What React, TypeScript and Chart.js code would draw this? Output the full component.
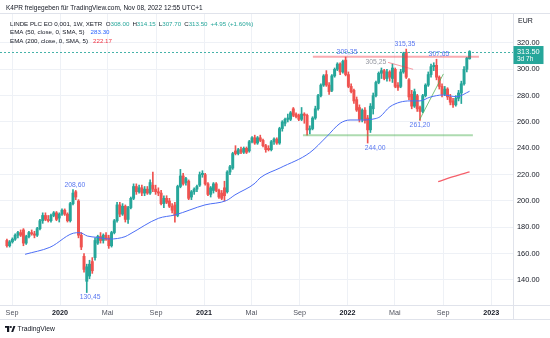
import React, { useEffect, useRef } from 'react';
import { Chart, registerables } from 'chart.js';

Chart.register(...registerables);

const FONT = '"Liberation Sans", Arial, sans-serif';
const UP = '#26a69a';
const DOWN = '#ef5350';
const DARK = '#131722';
const GRID = '#eef1f6';
const FRAME = '#e0e3eb';

// weekly candles, first week starting 2019-08-19
const firstWeek = '2019-08-19';
const opens = [
  170, 166, 169, 171, 174, 176, 178, 168, 173, 176,
  175, 174, 179, 185, 189, 186, 185, 189, 191, 187,
  190, 193, 190, 185, 198, 207, 200, 174, 158, 139,
  143, 154, 157, 168, 173, 170, 174, 172, 166, 176,
  185, 197, 190, 196, 186, 195, 202, 211, 207, 210,
  206, 209, 206, 212, 209, 207, 206, 198, 202, 200,
  196, 197, 189, 211, 219, 214, 215, 203, 207, 209,
  212, 220, 220, 213, 205, 208, 213, 208, 206, 210,
  207, 222, 225, 238, 236, 239, 237, 240, 238, 245,
  248, 244, 248, 246, 242, 240, 239, 245, 247, 244,
  255, 259, 262, 262, 270, 266, 265, 262, 266, 265,
  254, 255, 263, 270, 280, 288, 296, 288, 284, 295,
  300, 304, 298, 307, 296, 287, 284, 277, 271, 262,
  269, 263, 254, 270, 280, 290, 297, 299, 293, 298,
  293, 300, 288, 287, 298, 313, 292, 281, 272, 280,
  271, 268, 280, 288, 296, 302, 303, 294, 287, 281,
  285, 279, 276, 273, 278, 282, 289, 300, 308,
];
const highs = [
  171, 170, 172, 175, 177, 178, 179, 174, 177, 178,
  177, 180, 186, 191, 191, 189, 190, 192, 192, 191,
  194, 194, 191, 199, 208.6, 208, 201, 176, 160, 152,
  155, 157, 172, 174, 176, 175, 176, 174, 177, 186,
  199, 199, 198, 197, 196, 203, 213, 213, 212, 212,
  211, 211, 216, 222, 212, 210, 208, 204, 204, 202,
  198, 199, 212, 224, 221, 218, 216, 208, 210, 212,
  222, 223, 221, 214, 211, 214, 214, 209, 208, 215,
  223, 227, 237, 242, 240, 241, 241, 241, 246, 249,
  250, 249, 250, 247, 243, 242, 246, 248, 248, 256,
  261, 263, 266, 268, 271, 267, 266, 271, 267, 266,
  257, 264, 272, 281, 289, 296, 299, 290, 296, 301,
  305, 305, 307, 309.35, 298, 289, 285, 279, 273, 270,
  271, 265, 274, 282, 291, 298, 301, 300, 300, 299,
  304, 301, 290, 300, 313, 315.35, 293, 284, 285, 281,
  272, 281, 289, 298, 304, 305, 307.65, 295, 289, 287,
  286, 281, 278, 280, 284, 291, 302, 309, 314.15,
];
const lows = [
  165, 165, 168, 170, 172, 173, 166, 167, 172, 174,
  172, 173, 178, 183, 185, 184, 184, 188, 185, 184,
  189, 189, 184, 184, 197, 201, 172, 163, 146, 130.45,
  141, 145, 155, 167, 168, 168, 170, 164, 165, 175,
  184, 188, 189, 184, 183, 194, 201, 205, 206, 204,
  204, 205, 205, 207, 205, 204, 197, 195, 198, 195,
  191, 184, 188, 210, 212, 212, 201, 201, 205, 207,
  211, 218, 212, 204, 203, 206, 207, 202, 201, 200,
  206, 220, 224, 235, 235, 236, 236, 236, 237, 244,
  243, 243, 245, 241, 237, 238, 238, 243, 243, 243,
  253, 257, 260, 261, 264, 263, 261, 261, 259, 250,
  251, 254, 262, 269, 279, 287, 287, 281, 283, 294,
  299, 296, 297, 295, 286, 282, 274, 268, 260, 260,
  259, 244, 252, 266, 279, 289, 293, 292, 291, 291,
  290, 286, 284, 286, 297, 293, 277, 270, 271, 268,
  261.2, 267, 279, 287, 294, 299, 292, 285, 279, 280,
  277, 273, 271, 272, 276, 274, 288, 298, 307.7,
];
const closes = [
  166, 169, 171, 174, 176, 174, 168, 173, 176, 175,
  174, 179, 185, 189, 186, 185, 189, 191, 186, 190,
  193, 190, 185, 198, 206, 203, 174, 165, 148, 150,
  152, 147, 170, 173, 170, 174, 171, 166, 176, 185,
  197, 190, 196, 186, 195, 202, 211, 207, 210, 206,
  209, 206, 214, 209, 207, 206, 198, 202, 199, 196,
  193, 189, 211, 219, 213, 217, 202, 207, 209, 211,
  220, 221, 213, 205, 210, 213, 208, 203, 202, 204,
  222, 226, 236, 236, 239, 237, 240, 237, 245, 248,
  244, 248, 246, 242, 239, 239, 245, 247, 244, 255,
  260, 262, 263, 267, 265, 264, 262, 266, 265, 254,
  255, 263, 270, 280, 288, 295, 288, 283, 295, 300,
  304, 298, 306, 296, 287, 283, 276, 269, 262, 269,
  261, 254, 272, 280, 290, 297, 299, 293, 298, 294,
  301, 287, 286, 298, 312, 294, 279, 272, 283, 270,
  268, 280, 288, 296, 302, 303, 294, 287, 281, 285,
  279, 275, 273, 278, 282, 289, 300, 308.55, 313.5,
];

// EMA (50): week index, value
const ema50Weeks = [6.6, 15.6, 25.3, 26.5, 29.2, 32.6, 37.4, 42.9, 44.7, 55, 61, 71.9, 79.8, 82.8, 90.1, 91.9, 99.2, 110, 116.1, 121, 124.6, 128.2, 133.7, 135.5, 139.1, 146.4, 150, 153.6, 158.3, 163.3, 168];
const ema50Values = [159.5, 164.8, 175.9, 175.9, 173.4, 172.4, 171.1, 172.9, 174.9, 186.8, 189.4, 197.0, 200.4, 204.6, 213.5, 217.5, 225.1, 236.7, 248.8, 259.0, 261.5, 261.5, 262.5, 264.0, 271.6, 276.0, 276.0, 278.8, 280.5, 279.2, 283.3];
// EMA (200)
const ema200Weeks = [156.6, 162.1, 168];
const ema200Values = [214.7, 218.5, 222.17];

// drawings
const resistWeeks = [111.1, 171.4];
const resistPrices = [309.6, 309.6];
const supportWeeks = [107.5, 169.2];
const supportPrices = [250, 250];
const fallWeeks = [138.4, 147.5];
const fallPrices = [305.25, 300.0];
const riseWeeks = [149.8, 158.5];
const risePrices = [261.5, 296.5];

// price notes
const noteTexts = ['208,60', '130,45', '309,35', '315,35', '307,65', '244,00', '261,20', '305,25'];
const noteWeeks = [24.7, 30.2, 123.5, 144.5, 156.9, 133.7, 150, 134.0];
const notePrices = [208.6, 130.45, 309.35, 315.35, 307.65, 244.0, 261.2, 305.25];
const noteSides = [-1, 1, -1, -1, -1, 1, 1, 0];
const noteKinds = ['hi', 'lo', 'hi', 'hi', 'hi', 'lo', 'lo', 'gray'];

const xTickDates = ['2019-09-01', '2020-01-01', '2020-05-01', '2020-09-01', '2021-01-01', '2021-05-01', '2021-09-01', '2022-01-01', '2022-05-01', '2022-09-01', '2023-01-01'];
const xTickLabels = ['Sep', '2020', 'Mai', 'Sep', '2021', 'Mai', 'Sep', '2022', 'Mai', 'Sep', '2023'];
const yTicks = [140, 160, 180, 200, 220, 240, 260, 280, 300, 320];

const WEEK_MS = 7 * 86400000;
const weekOf = (d: string) => (Date.parse(d) - Date.parse(firstWeek)) / WEEK_MS;
const xTickWeeks = xTickDates.map(weekOf);

const X_MIN = -2.505;
const X_MAX = 183.77;
const Y_MIN = 121.0;
const Y_MAX = 342.0;

const isYear = (s: string) => /^\d{4}$/.test(s);
const candleColor = (i: number) => (closes[i] >= opens[i] ? UP : DOWN);

function drawSegs(ctx: CanvasRenderingContext2D, x: number, y: number, segs: [string, string, number][]) {
  let cx = x;
  for (const [t, c, gap] of segs) {
    cx += gap;
    ctx.fillStyle = c;
    ctx.fillText(t, cx, y);
    cx += ctx.measureText(t).width;
  }
}

const overlayPlugin = {
  id: 'overlay',
  afterDatasetsDraw(chart: any) {
    const { ctx, chartArea: a } = chart;
    const xs = chart.scales.x;
    const ys = chart.scales.y;
    ctx.save();
    ctx.beginPath();
    ctx.rect(a.left, a.top, a.right - a.left, a.bottom - a.top);
    ctx.clip();
    const last = closes.length - 1;
    const py = Math.round(ys.getPixelForValue(closes[last])) + 0.5;
    ctx.strokeStyle = 'rgba(38,166,154,0.85)';
    ctx.lineWidth = 1;
    ctx.setLineDash([2, 2]);
    ctx.beginPath();
    ctx.moveTo(a.left, py);
    ctx.lineTo(a.right, py);
    ctx.stroke();
    ctx.setLineDash([]);

    ctx.font = `6.8px ${FONT}`;
    ctx.textAlign = 'center';
    ctx.textBaseline = 'middle';
    noteTexts.forEach((t, k) => {
      const px = xs.getPixelForValue(noteWeeks[k]);
      const yy = ys.getPixelForValue(notePrices[k]) + noteSides[k] * 5;
      ctx.fillStyle = noteKinds[k] === 'gray' ? '#9598a1' : '#5a78f0';
      ctx.fillText(t, px, yy);
    });
    ctx.restore();
  },
  afterDraw(chart: any) {
    const { ctx, chartArea: a } = chart;
    const ys = chart.scales.y;
    const W = chart.width;
    ctx.save();
    // frame lines
    ctx.strokeStyle = FRAME;
    ctx.lineWidth = 1;
    ctx.beginPath();
    ctx.moveTo(0, 13.5); ctx.lineTo(W, 13.5);
    ctx.moveTo(0, a.bottom + 0.5); ctx.lineTo(W, a.bottom + 0.5);
    ctx.moveTo(0, a.bottom + 14.5); ctx.lineTo(W, a.bottom + 14.5);
    ctx.moveTo(a.right + 0.5, 13.5); ctx.lineTo(a.right + 0.5, a.bottom + 14.5);
    ctx.stroke();

    ctx.textBaseline = 'middle';
    ctx.textAlign = 'left';
    // header
    ctx.font = `6.5px ${FONT}`;
    ctx.fillStyle = DARK;
    ctx.fillText('K4PR freigegeben für TradingView.com, Nov 08, 2022 12:55 UTC+1', 6, 8.5);

    // legend
    const last = closes.length - 1;
    const chg = closes[last] - closes[last - 1];
    const pct = (chg / closes[last - 1]) * 100;
    const sign = chg >= 0 ? '+' : '';
    ctx.font = `6.2px ${FONT}`;
    drawSegs(ctx, 10, 24, [
      ['LINDE PLC EO 0,001, 1W, XETR', DARK, 0],
      ['O', DARK, 3.5], [opens[last].toFixed(2), UP, 0],
      ['H', DARK, 3], [highs[last].toFixed(2), UP, 0],
      ['L', DARK, 3], [lows[last].toFixed(2), UP, 0],
      ['C', DARK, 3], [closes[last].toFixed(2), UP, 0],
      [`${sign}${chg.toFixed(2)} (${sign}${pct.toFixed(2)}%)`, UP, 3],
    ]);
    drawSegs(ctx, 10, 32.5, [
      ['EMA (50, close, 0, SMA, 5)', DARK, 0],
      [ema50Values[ema50Values.length - 1].toFixed(2), '#2962ff', 6],
    ]);
    drawSegs(ctx, 10, 41, [
      ['EMA (200, close, 0, SMA, 5)', DARK, 0],
      [ema200Values[ema200Values.length - 1].toFixed(2), '#f23645', 5],
    ]);

    // currency
    ctx.font = `7px ${FONT}`;
    ctx.fillStyle = DARK;
    ctx.fillText('EUR', a.right + 5, 21);

    // last price tag
    const py = ys.getPixelForValue(closes[last]);
    ctx.fillStyle = UP;
    ctx.fillRect(a.right + 0.5, py - 5.5, 30, 18);
    ctx.fillStyle = '#ffffff';
    ctx.font = `7.4px ${FONT}`;
    ctx.fillText(closes[last].toFixed(2), a.right + 4, py);
    ctx.font = `6.5px ${FONT}`;
    ctx.fillText('3d 7h', a.right + 4, py + 7.8);

    // TradingView logo
    const ly = 329;
    ctx.fillStyle = DARK;
    ctx.fillRect(5, ly - 3, 4.2, 1.8);
    ctx.fillRect(7, ly - 3, 2.2, 6);
    ctx.beginPath();
    ctx.arc(10.8, ly - 2, 1.1, 0, Math.PI * 2);
    ctx.fill();
    ctx.beginPath();
    ctx.moveTo(11.2, ly + 3);
    ctx.lineTo(13.4, ly - 3);
    ctx.lineTo(15.4, ly - 3);
    ctx.lineTo(13.2, ly + 3);
    ctx.closePath();
    ctx.fill();
    ctx.font = `6.8px ${FONT}`;
    ctx.fillText('TradingView', 17.5, ly);
    ctx.restore();
  },
};

export default function App() {
  const ref = useRef<HTMLCanvasElement>(null);
  useEffect(() => {
    const canvas = ref.current;
    if (!canvas) return;
    const idx = opens.map((_, i) => i);
    const wickData = idx.map((i) => ({ x: i, y: [lows[i], highs[i]] }));
    const bodyData = idx.map((i) => ({ x: i, y: [opens[i], closes[i]] }));
    const pts = (ws: number[], vs: number[]) => ws.map((w, k) => ({ x: w, y: vs[k] }));
    const lineDs = (data: any[], color: string, width: number, extra: any = {}) => ({
      type: 'line',
      data,
      borderColor: color,
      borderWidth: width,
      pointRadius: 0,
      fill: false,
      order: 0,
      ...extra,
    });

    const chart = new Chart(canvas, {
      type: 'bar',
      data: {
        datasets: [
          lineDs(pts(ema50Weeks, ema50Values), '#4c6ef5', 1, { tension: 0.3, cubicInterpolationMode: 'monotone' }),
          lineDs(pts(ema200Weeks, ema200Values), '#f5606b', 1.3, { tension: 0.3 }),
          lineDs(pts(resistWeeks, resistPrices), 'rgba(242,54,69,0.42)', 2),
          lineDs(pts(supportWeeks, supportPrices), 'rgba(76,175,80,0.45)', 2),
          lineDs(pts(fallWeeks, fallPrices), 'rgba(242,54,69,0.5)', 1),
          lineDs(pts(riseWeeks, risePrices), 'rgba(76,175,80,0.75)', 1),
          {
            type: 'bar',
            data: bodyData,
            backgroundColor: (c: any) => candleColor(c.dataIndex),
            barThickness: 2.3,
            maxBarThickness: 2.3,
            minBarLength: 1,
            grouped: false,
            borderWidth: 0,
            order: 5,
          },
          {
            type: 'bar',
            data: wickData,
            backgroundColor: (c: any) => candleColor(c.dataIndex),
            barThickness: 1,
            maxBarThickness: 1,
            grouped: false,
            borderWidth: 0,
            order: 6,
          },
        ] as any,
      },
      options: {
        responsive: false,
        animation: false,
        devicePixelRatio: 1,
        events: [],
        layout: { padding: { top: 14, bottom: 19, left: 0, right: 0 } },
        plugins: { legend: { display: false }, tooltip: { enabled: false } },
        scales: {
          x: {
            type: 'linear',
            min: X_MIN,
            max: X_MAX,
            offset: false,
            afterBuildTicks: (s: any) => {
              s.ticks = xTickWeeks.map((v) => ({ value: v }));
            },
            afterFit: (s: any) => {
              s.height = 14;
            },
            grid: { color: GRID, drawTicks: false, offset: false },
            border: { display: false },
            ticks: {
              autoSkip: false,
              maxRotation: 0,
              padding: 3.5,
              callback: (_v: any, i: number) => xTickLabels[i],
              font: (c: any) => ({ family: FONT, size: 7.2, weight: isYear(xTickLabels[c.index] || '') ? 'bold' : 'normal' }),
              color: (c: any) => (isYear(xTickLabels[c.index] || '') ? DARK : '#50535e'),
            },
          },
          y: {
            position: 'right',
            min: Y_MIN,
            max: Y_MAX,
            afterBuildTicks: (s: any) => {
              s.ticks = yTicks.map((v) => ({ value: v }));
            },
            afterFit: (s: any) => {
              s.width = 37;
            },
            grid: { color: GRID, drawTicks: false },
            border: { display: false },
            ticks: {
              padding: 4,
              callback: (v: any) => Number(v).toFixed(2),
              font: { family: FONT, size: 7.4 },
              color: DARK,
            },
          },
        },
      } as any,
      plugins: [overlayPlugin],
    });
    return () => chart.destroy();
  }, []);

  return (
    <div style={{ position: 'fixed', left: 0, top: 0, width: 550, height: 338, background: '#ffffff' }}>
      <canvas ref={ref} width={550} height={338} style={{ display: 'block', width: 550, height: 338 }} />
    </div>
  );
}
